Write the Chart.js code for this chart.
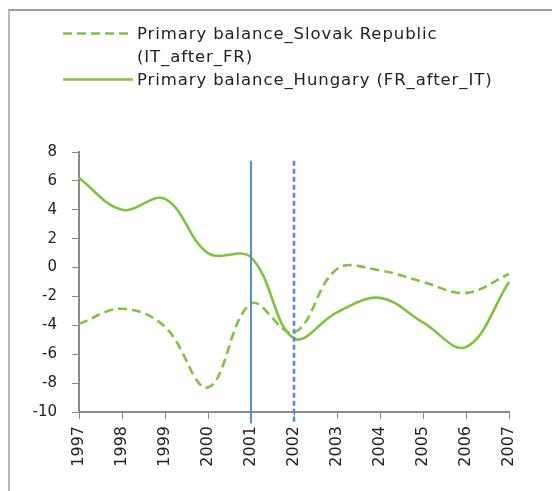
<!DOCTYPE html>
<html>
<head>
<meta charset="utf-8">
<script src="https://cdn.jsdelivr.net/npm/chart.js@4/dist/chart.umd.min.js"></script>
<style>
  html,body{margin:0;padding:0;background:#fff;}
  #wrap{position:relative;width:552px;height:491px;overflow:hidden;background:#fff;}
  #frame{position:absolute;left:8px;top:9px;width:560px;height:500px;border-left:2px solid #b9b9b9;border-top:2px solid #9a9a9a;box-sizing:border-box;}
  canvas{position:absolute;left:0;top:0;}
  #legend{position:absolute;left:63px;top:22px;font-family:"DejaVu Sans",sans-serif;font-size:16.5px;letter-spacing:0.9px;color:#222;line-height:23px;}
  .row{display:flex;align-items:flex-start;}
  .sample{width:70px;height:23px;flex:none;margin-right:4px;}
</style>
</head>
<body>
<div id="wrap">
  <div id="frame"></div>
  <canvas id="c" width="552" height="491"></canvas>
  <div id="legend"></div>
</div>
<script>
const years = ['1997','1998','1999','2000','2001','2002','2003','2004','2005','2006','2007'];
const slovakValues = [-3.9, -2.85, -4.1, -8.3, -2.5, -4.5, -0.1, -0.2, -1.0, -1.75, -0.45];
const hungaryValues = [6.2, 4.0, 4.75, 1.0, 0.7, -4.9, -3.1, -2.1, -3.8, -5.5, -1.0];
const seriesNames = ['Primary balance_Slovak Republic\n(IT_after_FR)', 'Primary balance_Hungary (FR_after_IT)'];
const markerYears = ['2001', '2002'];
const markerRange = [7.4, -10.8];
const yMin = -10, yMax = 8, yStep = 2;

const green = '#80c341';
const blue = '#5b8ccd';

// HTML legend
const legend = document.getElementById('legend');
const dashes = ['9,5', null];
seriesNames.forEach((name, i) => {
  const row = document.createElement('div');
  row.className = 'row';
  const svg = `<svg class="sample" viewBox="0 0 70 23"><line x1="0" y1="11.5" x2="70" y2="11.5" stroke="${green}" stroke-width="2.6" ${dashes[i] ? 'stroke-dasharray="' + dashes[i] + '"' : ''}/></svg>`;
  row.innerHTML = svg + '<div>' + name.split('\n').join('<br>') + '</div>';
  legend.appendChild(row);
});

const markerSets = markerYears.map((yr, i) => ({
  data: markerRange.map(v => ({x: yr, y: v})),
  borderColor: blue,
  borderWidth: i === 0 ? 2 : 2.6,
  borderDash: i === 0 ? [] : [5, 3],
  pointRadius: 0,
  tension: 0,
  clip: false,
  order: 0
}));

new Chart(document.getElementById('c'), {
  type: 'line',
  data: {
    labels: years,
    datasets: [
      ...markerSets,
      {label: seriesNames[0], data: slovakValues, borderColor: green, borderWidth: 2.6, borderDash: [9, 5], pointRadius: 0, tension: 0.38, order: 1},
      {label: seriesNames[1], data: hungaryValues, borderColor: green, borderWidth: 2.6, pointRadius: 0, tension: 0.38, order: 1}
    ]
  },
  options: {
    responsive: false,
    animation: false,
    layout: {padding: {top: 152, right: 43, bottom: 0, left: 0}},
    plugins: {legend: {display: false}, tooltip: {enabled: false}},
    scales: {
      x: {
        type: 'category',
        offset: false,
        grid: {display: true, drawOnChartArea: false, drawTicks: true, tickLength: 7, color: '#8a8a8a'},
        border: {color: '#8a8a8a', width: 2},
        ticks: {minRotation: 90, maxRotation: 90, padding: 7, color: '#222', font: {family: 'DejaVu Sans', size: 16}, autoSkip: false},
        afterFit: s => { s.height = 79; }
      },
      y: {
        min: yMin, max: yMax,
        grid: {display: true, drawOnChartArea: false, drawTicks: true, tickLength: 7, color: '#8a8a8a'},
        border: {color: '#8a8a8a', width: 2},
        ticks: {stepSize: yStep, padding: 15, color: '#222', font: {family: 'DejaVu Sans', size: 15}},
        afterFit: s => { s.width = 79; }
      }
    }
  }
});
</script>
</body>
</html>
